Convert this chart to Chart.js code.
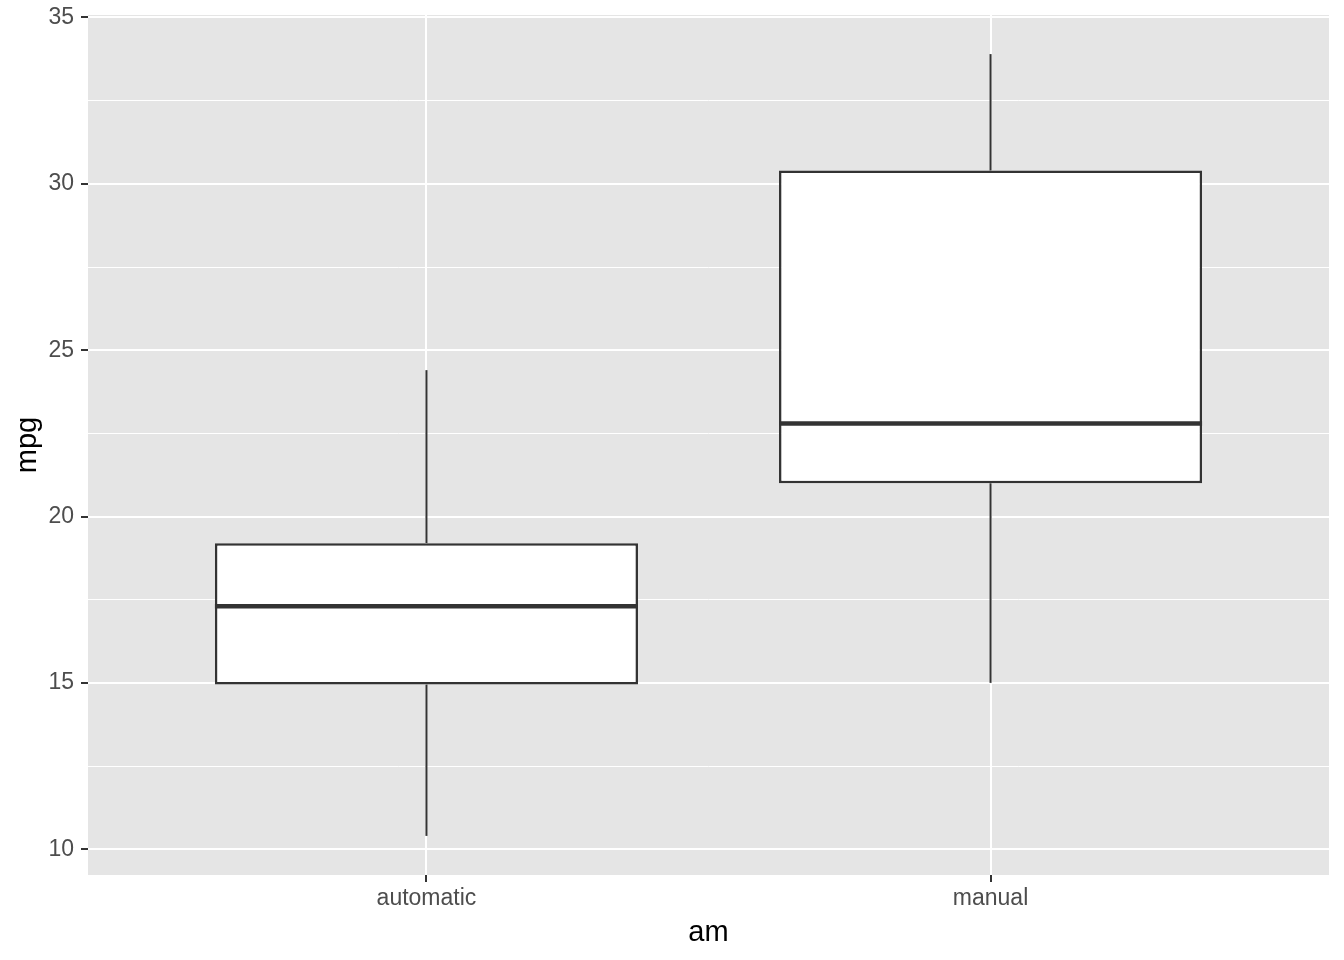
<!DOCTYPE html>
<html>
<head>
<meta charset="utf-8">
<script src="https://cdn.jsdelivr.net/npm/chart.js@4/dist/chart.umd.min.js"></script>
<style>
  body { margin: 0; background: #ffffff; }
  #wrap { width: 1344px; height: 960px; }
</style>
</head>
<body>
<div id="wrap"><canvas id="boxChart" width="1344" height="960"></canvas></div>
<script>
const categories = ["automatic", "manual"];
const whiskerLow = [10.4, 15.0];
const lowerQuartile = [14.95, 21.0];
const medians = [17.3, 22.8];
const upperQuartile = [19.2, 30.4];
const whiskerHigh = [24.4, 33.9];

const yMajorTicks = [10, 15, 20, 25, 30, 35];
const yMinorTicks = [12.5, 17.5, 22.5, 27.5, 32.5];

const BOX_WIDTH = 0.75;
const INK = "#333333";

const panelBackground = {
  id: "panelBackground",
  beforeDraw(chart) {
    const { ctx, chartArea } = chart;
    ctx.save();
    ctx.fillStyle = "#E5E5E5";
    ctx.fillRect(chartArea.left, chartArea.top, chartArea.right - chartArea.left, chartArea.bottom - chartArea.top);
    ctx.restore();
  },
};

function lineSet(points, width, order) {
  return {
    type: "line",
    data: points,
    borderColor: INK,
    borderWidth: width,
    pointRadius: 0,
    fill: false,
    order,
  };
}

const datasets = [
  {
    type: "bar",
    label: "box",
    data: categories.map((c, i) => ({ x: i + 1, y: [lowerQuartile[i], upperQuartile[i]] })),
    backgroundColor: "#ffffff",
    borderColor: INK,
    borderWidth: 2.5,
    borderSkipped: false,
    categoryPercentage: 1,
    barPercentage: BOX_WIDTH,
    grouped: false,
    order: 1,
  },
];

categories.forEach((c, i) => {
  const x = i + 1;
  datasets.push(lineSet([{ x, y: whiskerLow[i] }, { x, y: lowerQuartile[i] }], 2, 2));
  datasets.push(lineSet([{ x, y: upperQuartile[i] }, { x, y: whiskerHigh[i] }], 2, 2));
  datasets.push(lineSet([{ x: x - BOX_WIDTH / 2, y: medians[i] }, { x: x + BOX_WIDTH / 2, y: medians[i] }], 4.5, 0));
});

new Chart(document.getElementById("boxChart"), {
  type: "bar",
  data: { datasets },
  options: {
    responsive: false,
    animation: false,
    layout: { padding: { left: 0, top: 15, right: 15, bottom: 0 } },
    plugins: {
      legend: { display: false },
      tooltip: { enabled: false },
    },
    scales: {
      x: {
        type: "linear",
        min: 0.4,
        max: 2.6,
        offset: false,
        afterBuildTicks: (scale) => {
          scale.ticks = categories.map((c, i) => ({ value: i + 1 }));
        },
        afterFit: (scale) => {
          scale.height = 85;
          scale.paddingLeft = 0;
          scale.paddingRight = 0;
        },
        border: { display: false },
        grid: {
          offset: false,
          color: "#ffffff",
          lineWidth: 2,
          tickColor: INK,
          tickWidth: 2,
          tickLength: 7,
        },
        ticks: {
          color: "#4D4D4D",
          font: { family: "Liberation Sans", size: 23 },
          padding: 3,
          maxRotation: 0,
          callback: (value) => categories[Math.round(value) - 1] ?? "",
        },
        title: {
          display: true,
          text: "am",
          color: "#000000",
          font: { family: "Liberation Sans", size: 29 },
          padding: { top: 0, bottom: 10 },
        },
      },
      y: {
        type: "linear",
        min: 9.225,
        max: 35.075,
        afterBuildTicks: (scale) => {
          scale.ticks = [...yMajorTicks, ...yMinorTicks].sort((a, b) => a - b).map((v) => ({ value: v }));
        },
        afterFit: (scale) => {
          scale.width = 88;
          scale.paddingTop = 0;
          scale.paddingBottom = 0;
        },
        border: { display: false },
        grid: {
          color: "#ffffff",
          lineWidth: (ctx) => (yMajorTicks.includes(ctx.tick.value) ? 2 : 1),
          tickColor: (ctx) => (yMajorTicks.includes(ctx.tick.value) ? INK : "rgba(0,0,0,0)"),
          tickWidth: 2,
          tickLength: 7,
        },
        ticks: {
          color: "#4D4D4D",
          font: { family: "Liberation Sans", size: 23 },
          padding: 7,
          callback: (value) => (yMajorTicks.includes(value) ? String(value) : ""),
        },
        title: {
          display: true,
          text: "mpg",
          color: "#000000",
          font: { family: "Liberation Sans", size: 29 },
          padding: { top: 11, bottom: 0 },
        },
      },
    },
  },
  plugins: [panelBackground],
});
</script>
</body>
</html>
